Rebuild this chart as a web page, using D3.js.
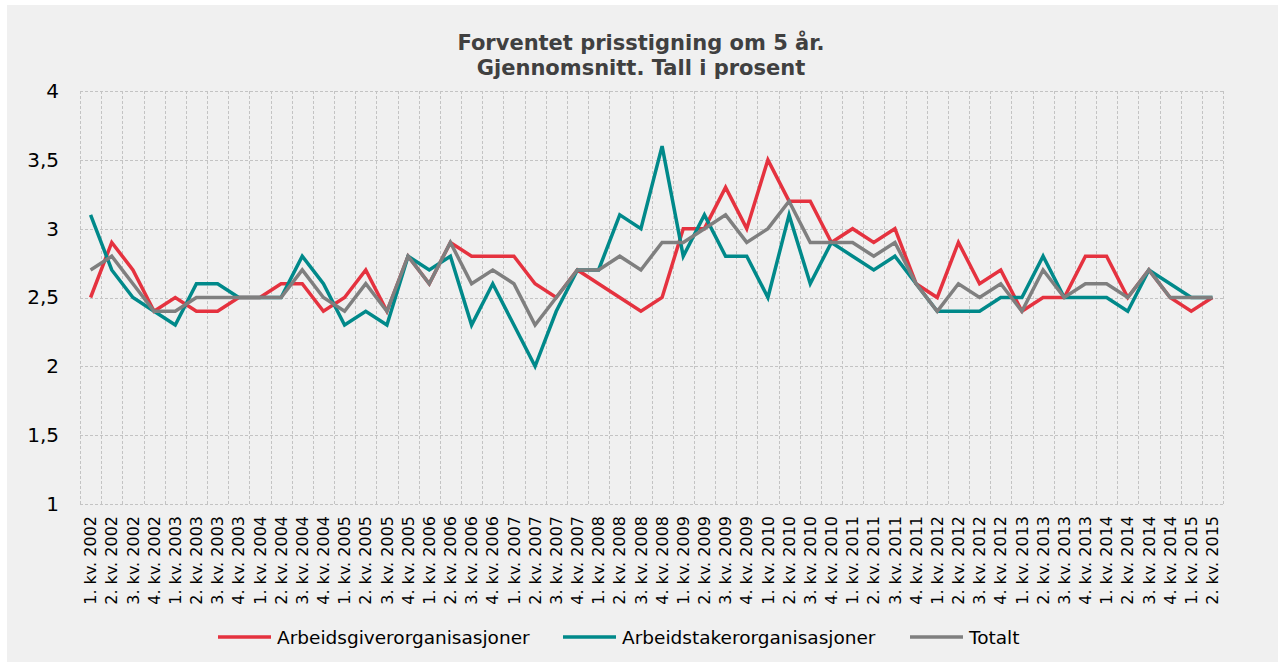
<!DOCTYPE html>
<html>
<head>
  <meta charset="utf-8" />
  <script src="https://d3js.org/d3.v7.min.js"></script>
  <style>
    * { margin: 0; padding: 0; box-sizing: border-box; }
    body { background: #ffffff; font-family: "DejaVu Sans", Verdana, sans-serif; }
    svg { display: block; }
  </style>
</head>
<body>
  <svg width="1278" height="662"></svg>
  <script>
    // Quarters 1. kv. 2002 .. 2. kv. 2015
    const quarters = [];
    for (let y = 2002; y <= 2015; y++) {
      for (let q = 1; q <= 4; q++) {
        if (y === 2015 && q > 2) break;
        quarters.push(q + ". kv. " + y);
      }
    }

    const arbeidsgiver = [
      2.5, 2.9, 2.7, 2.4, 2.5, 2.4, 2.4, 2.5, 2.5, 2.6, 2.6, 2.4, 2.5, 2.7, 2.4, 2.8,
      2.6, 2.9, 2.8, 2.8, 2.8, 2.6, 2.5, 2.7, 2.6, 2.5, 2.4, 2.5, 3.0, 3.0, 3.3, 3.0,
      3.5, 3.2, 3.2, 2.9, 3.0, 2.9, 3.0, 2.6, 2.5, 2.9, 2.6, 2.7, 2.4, 2.5, 2.5, 2.8,
      2.8, 2.5, 2.7, 2.5, 2.4, 2.5
    ];
    const arbeidstaker = [
      3.1, 2.7, 2.5, 2.4, 2.3, 2.6, 2.6, 2.5, 2.5, 2.5, 2.8, 2.6, 2.3, 2.4, 2.3, 2.8,
      2.7, 2.8, 2.3, 2.6, 2.3, 2.0, 2.4, 2.7, 2.7, 3.1, 3.0, 3.6, 2.8, 3.1, 2.8, 2.8,
      2.5, 3.1, 2.6, 2.9, 2.8, 2.7, 2.8, 2.6, 2.4, 2.4, 2.4, 2.5, 2.5, 2.8, 2.5, 2.5,
      2.5, 2.4, 2.7, 2.6, 2.5, 2.5
    ];
    const totalt = [
      2.7, 2.8, 2.6, 2.4, 2.4, 2.5, 2.5, 2.5, 2.5, 2.5, 2.7, 2.5, 2.4, 2.6, 2.4, 2.8,
      2.6, 2.9, 2.6, 2.7, 2.6, 2.3, 2.5, 2.7, 2.7, 2.8, 2.7, 2.9, 2.9, 3.0, 3.1, 2.9,
      3.0, 3.2, 2.9, 2.9, 2.9, 2.8, 2.9, 2.6, 2.4, 2.6, 2.5, 2.6, 2.4, 2.7, 2.5, 2.6,
      2.6, 2.5, 2.7, 2.5, 2.5, 2.5
    ];

    const seriesNames = ["Arbeidsgiverorganisasjoner", "Arbeidstakerorganisasjoner", "Totalt"];
    const seriesColors = ["#e5323f", "#00898a", "#7f7f7f"];
    const seriesValues = [arbeidsgiver, arbeidstaker, totalt];
    const yTicks = [1, 1.5, 2, 2.5, 3, 3.5, 4];

    const svg = d3.select("svg");

    // chart background
    svg.append("rect")
      .attr("x", 7).attr("y", 5)
      .attr("width", 1271).attr("height", 657)
      .attr("fill", "#f0f0f0");

    const plot = { left: 80, right: 1223, top: 91, bottom: 504 };

    const x = d3.scaleBand().domain(quarters).range([plot.left, plot.right]).padding(0);
    const y = d3.scaleLinear().domain([1, 4]).range([plot.bottom, plot.top]);

    const grid = svg.append("g")
      .attr("stroke", "#c3c3c3")
      .attr("stroke-width", 1)
      .attr("stroke-dasharray", "3,2")
      .attr("shape-rendering", "crispEdges");

    // horizontal gridlines
    grid.selectAll("line.h").data(yTicks).join("line")
      .attr("class", "h")
      .attr("x1", plot.left).attr("x2", plot.right)
      .attr("y1", d => Math.round(y(d)) + 0.5).attr("y2", d => Math.round(y(d)) + 0.5);

    // vertical gridlines at category boundaries
    const bounds = quarters.map(q => x(q)).concat([plot.right]);
    grid.selectAll("line.v").data(bounds).join("line")
      .attr("class", "v")
      .attr("x1", d => Math.round(d) + 0.5).attr("x2", d => Math.round(d) + 0.5)
      .attr("y1", plot.top).attr("y2", plot.bottom);

    // y axis labels
    const yAxis = d3.axisLeft(y).tickValues(yTicks).tickSize(0).tickPadding(0)
      .tickFormat(d => String(d).replace(".", ","));
    svg.append("g")
      .attr("transform", `translate(${plot.left - 21},0)`)
      .call(yAxis)
      .call(g => g.select(".domain").remove())
      .call(g => g.selectAll("text")
        .attr("font-family", "DejaVu Sans, Verdana, sans-serif")
        .attr("font-size", 20)
        .attr("fill", "#000"));

    // x axis labels, rotated
    const xAxis = d3.axisBottom(x).tickSize(0).tickPadding(0);
    svg.append("g")
      .attr("transform", `translate(0,${plot.bottom})`)
      .call(xAxis)
      .call(g => g.select(".domain").remove())
      .call(g => g.selectAll("text")
        .attr("font-family", "DejaVu Sans, Verdana, sans-serif")
        .attr("font-size", 16)
        .attr("fill", "#000")
        .attr("text-anchor", "end")
        .attr("dy", "0.35em")
        .attr("transform", "translate(0,12) rotate(-90)")
        .attr("x", 0).attr("y", 0));

    // lines
    const line = d3.line()
      .x((d, i) => x(quarters[i]) + x.bandwidth() / 2)
      .y(d => y(d));

    seriesValues.forEach((vals, k) => {
      svg.append("path")
        .datum(vals)
        .attr("fill", "none")
        .attr("stroke", seriesColors[k])
        .attr("stroke-width", 3.5)
        .attr("stroke-linejoin", "miter")
        .attr("d", line);
    });

    // title
    const title = svg.append("text")
      .attr("text-anchor", "middle")
      .attr("font-family", "DejaVu Sans, Verdana, sans-serif")
      .attr("font-weight", "bold")
      .attr("font-size", 21)
      .attr("fill", "#404040");
    title.append("tspan").attr("x", 641).attr("y", 50).text("Forventet prisstigning om 5 år.");
    title.append("tspan").attr("x", 641).attr("y", 75).text("Gjennomsnitt. Tall i prosent");

    // legend
    const legendX = [218, 563, 910];
    const legend = svg.append("g");
    seriesNames.forEach((name, k) => {
      legend.append("line")
        .attr("x1", legendX[k]).attr("x2", legendX[k] + 53)
        .attr("y1", 637).attr("y2", 637)
        .attr("stroke", seriesColors[k])
        .attr("stroke-width", 3.5);
      legend.append("text")
        .attr("x", legendX[k] + 59).attr("y", 644)
        .attr("font-family", "DejaVu Sans, Verdana, sans-serif")
        .attr("font-size", 18.5)
        .attr("fill", "#000")
        .text(name);
    });
  </script>
</body>
</html>
